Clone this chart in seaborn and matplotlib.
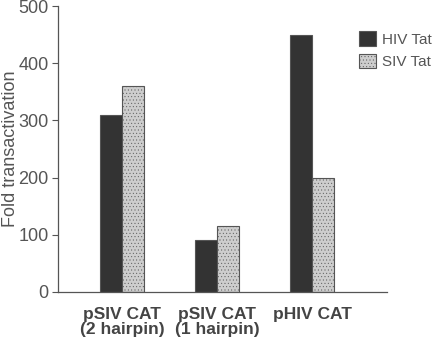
import pandas as pd
import matplotlib.pyplot as plt
import seaborn as sns

# data
constructs = ['pSIV CAT\n(2 hairpin)', 'pSIV CAT\n(1 hairpin)', 'pHIV CAT']
hiv_tat = [310, 90, 450]
siv_tat = [360, 115, 200]

df = pd.DataFrame({
    'Construct': constructs * 2,
    'Fold': hiv_tat + siv_tat,
    'Tat': ['HIV Tat'] * 3 + ['SIV Tat'] * 3,
})

sns.set_style('white')
plt.rcParams['font.family'] = ['Liberation Sans', 'DejaVu Sans']
plt.rcParams['hatch.color'] = '#a8a8a8'
plt.rcParams['hatch.linewidth'] = 0.3

fig = plt.figure(figsize=(4.34, 3.41), dpi=100)
ax = fig.add_axes([0.134, 0.144, 0.758, 0.838])

sns.barplot(data=df, x='Construct', y='Fold', hue='Tat',
            palette={'HIV Tat': '#333333', 'SIV Tat': '#cdcdcd'},
            width=0.46, edgecolor='#555555', linewidth=0.8, ax=ax)

# fine stipple on the SIV bars
for bar in ax.patches[3:6]:
    bar.set_hatch('.....')

ax.set_xlim(-0.67, 2.79)
ax.set_ylim(0, 500)
ax.set_yticks([0, 100, 200, 300, 400, 500])
ax.set_xlabel('')
ax.set_ylabel('Fold transactivation', fontsize=13, color='#555555')
ax.yaxis.set_label_coords(-0.118, 0.5)
ax.tick_params(axis='y', labelsize=13, labelcolor='#555555', length=4, width=0.8,
               color='#555555', left=True, direction='out', pad=3)
ax.tick_params(axis='x', length=0, pad=11)
for lbl in ax.get_xticklabels():
    lbl.set_fontweight('bold')
    lbl.set_fontsize(12.5)
    lbl.set_color('#444444')
    lbl.set_linespacing(1.0)

sns.despine(ax=ax)
for s in ['left', 'bottom']:
    ax.spines[s].set_color('#555555')
    ax.spines[s].set_linewidth(0.9)

handles, labels = ax.get_legend_handles_labels()
handles[1].set_hatch('.....')
ax.legend(handles, labels, loc='upper left', bbox_to_anchor=(0.915, 0.912),
          frameon=False, fontsize=11, labelcolor='#555555',
          handlelength=1.1, handleheight=1.1, handletextpad=0.4,
          labelspacing=0.45, borderaxespad=0, borderpad=0)

fig.savefig('out.png', dpi=100)
